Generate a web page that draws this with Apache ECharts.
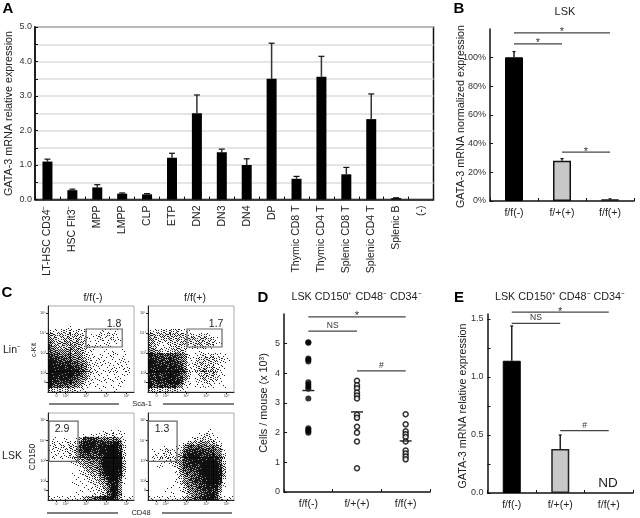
<!DOCTYPE html>
<html>
<head>
<meta charset="utf-8">
<title>GATA-3 expression</title>
<script src="https://cdn.jsdelivr.net/npm/echarts@6/dist/echarts.min.js"></script>
<style>
html,body{margin:0;padding:0;background:#fff;}
#main{width:640px;height:518px;}
</style>
</head>
<body>
<div id="main"></div>
<script>
// panel A
var subsets = ['LT-HSC CD34⁻','HSC Flt3⁻','MPP','LMPP','CLP','ETP','DN2','DN3','DN4','DP','Thymic CD8 T','Thymic CD4 T','Splenic CD8 T','Splenic CD4 T','Splenic B','(-)'];
var subsetMean = [1.1,0.27,0.35,0.17,0.15,1.21,2.5,1.37,1.0,3.5,0.6,3.56,0.73,2.33,0.04,0];
var subsetTop = [1.17,0.3,0.43,0.19,0.17,1.34,3.03,1.46,1.18,4.53,0.67,4.15,0.93,3.06,0.05,0];

// panels B, D, E
var genotypes = ['f/f(-)','f/+(+)','f/f(+)'];
var lskMean = [100,28,1.2];
var lskTop = [104,29.5,1.5];
var lskBrackets = [[0,2,117,'*'],[0,1,109.3,'*'],[1,2,34,'*']];
var cellsFF = [5.05,5.03,4.5,4.46,4.4,3.7,3.62,3.55,3.48,3.15,2.15,2.1,2.05,2.0];
var cellsFP = [3.75,3.6,3.5,3.35,3.25,3.15,2.6,2.5,2.2,2.0,1.7,0.8];
var cellsFPlus = [2.62,2.28,2.05,1.95,1.85,1.7,1.4,1.3,1.2,1.1];
var cellsMean = [3.42,2.7,1.72];
var cellsBrackets = [[0,2,5.9,'*'],[0,1,5.42,'NS'],[1,2,4.08,'#']];
var sortedMean = [1.14,0.38,null];
var sortedTop = [1.44,0.5,null];
var sortedBrackets = [[0,2,1.56,'*'],[0,1,1.463,'NS'],[1,2,0.537,'#']];

// panel C, flow plots: density read per cell, 22 x 22, top row first, 0 empty to 9 solid
var facsLinFF = [
'0000000000000000000000','0000000000000000000000','0000000000000000000000','0000000000000000000000','0000000000000000000000',
'0000010000000000000000','2112221212000111010000','4323232321011212110000','4322332322101211211000','5333433432101011010000',
'6433334332211101000000','6544453432110010100100','7665564442110101110100','8776665543211110101100','9877776654211111011110',
'9888787765211101111110','9888887865311011110110','9888888764211101010110','9878877654211011011000','9777776542110110101100',
'8666655431101010101000','2222222111000100010000'];
var facsLinFP = [
'0000000000000000000000','0000000000000000000000','0000000000000000000000','0000000000000000000000','0000000000000000000000',
'0000000000000000000000','2122222311100000000000','4323333332121221000000','4322232323332332210000','3321122233223323211000',
'4311112322122221100000','5432122332000100000000','8767666654101121211100','8777677654112233222110','9877777764112322221100',
'8888878774112232311100','8788787875212342321000','8787888865201232321100','8787888774201232221000','8687788872101122111000',
'8667767641101111100100','2222222211000000000000'];
var facsLskFF = [
'0000000000000000000000','0000000000000000000000','0000000000000000000000','0000000000000000000000','0000000000000010101000',
'0000000001011121211100','0100100137776555453100','0211121268887777786100','1212122378887889997200','1111212478877889997200',
'0111121366766789998200','0101012345666799998200','0000001234555799999300','0000000123445699999300','0000000012344689998300',
'0000001012233689998200','0000000101222468996100','0000001010122347885100','0000000101012236884000','0000000010111236884000',
'0000000100011236885000','1111111113456788973111'];
var facsLskFP = [
'0000000000000000000000','0000000000000000000000','0000000000000000000000','0000000000000000000000','0000000000000001000000',
'0000000000000122100000','0000000000012222110000','0000000001333443321000','0000100114666655543000','0101221126777776654100',
'0111211237888777765200','0112121237888878876200','0101111347788899986200','0011001247777899997300','0000000146677899998300',
'0000000135666899998300','0000000124567789998200','0000000124567789997100','0000001013556778885100','0000100012456678774000',
'0000001001345678872000','1111111113456788973111'];
// gates in decades: x0, x1, y0, y1, label, label x, label y
var gateLinFF = [3.0,4.78,3.31,4.21,'1.8',4.38,4.46];
var gateLinFP = [3.05,4.77,3.31,4.21,'1.7',4.48,4.46];
var gateLskFF = [1.18,2.61,2.97,4.96,'2.9',1.82,4.56];
var gateLskFP = [1.13,2.56,2.97,4.96,'1.3',1.82,4.56];
var decadeTicks = [1.55,2,3,4,5];
var decadeLabels = ['0','10²','10³','10⁴','10⁵'];
// screen order used to shade a density cell as specks instead of a flat grey
var speckOrder = [0,8,2,10,12,4,14,6,3,11,1,9,15,7,13,5];

var FONT = '"Liberation Sans", Arial, sans-serif';
var INK = '#222';

function errorBars(gridIdx, means, tops, capHalf, stemColor){
    var rows = [];
    means.forEach(function(m, i){
        if(m !== null && tops[i] > m){ rows.push([i, m, tops[i]]); }
    });
    return {
        type:'custom', xAxisIndex:gridIdx, yAxisIndex:gridIdx, z:1, silent:true,
        data:rows,
        renderItem:function(params, api){
            var low = api.coord([api.value(0), api.value(1)]);
            var high = api.coord([api.value(0), api.value(2)]);
            return {type:'group', children:[
                {type:'line', shape:{x1:low[0],y1:low[1],x2:high[0],y2:high[1]}, style:{stroke:stemColor,lineWidth:1.5}},
                {type:'line', shape:{x1:high[0]-capHalf,y1:high[1],x2:high[0]+capHalf,y2:high[1]}, style:{stroke:'#111',lineWidth:1.2}}
            ]};
        }
    };
}

function brackets(gridIdx, rows){
    return {
        type:'custom', xAxisIndex:gridIdx, yAxisIndex:gridIdx, z:3, silent:true,
        encode:{x:[0,1], y:2},
        data:rows,
        renderItem:function(params, api){
            var a = api.coord([api.value(0), api.value(2)]);
            var b = api.coord([api.value(1), api.value(2)]);
            var mark = rows[params.dataIndex][3];
            return {type:'group', children:[
                {type:'line', shape:{x1:a[0],y1:a[1],x2:b[0],y2:b[1]}, style:{stroke:'#444',lineWidth:1.2}},
                {type:'text', x:(a[0]+b[0])/2, y:a[1]+(mark=='*'?5:-1), style:{text:mark,fill:'#333',align:'center',verticalAlign:'bottom',font:(mark=='*'?'11px ':'8.5px ')+FONT}}
            ]};
        }
    };
}

function facsSeries(gridIdx, rows){
    var cells = [];
    rows.forEach(function(row, r){
        for(var c=0;c<row.length;c++){
            if(row[c] != '0'){ cells.push([c, r, +row[c]]); }
        }
    });
    var x0 = 1.13, x1 = 5.36, y0 = 1.06, y1 = 5.36, n = 22;
    return {
        type:'custom', xAxisIndex:gridIdx, yAxisIndex:gridIdx, z:1, silent:true,
        encode:{x:0, y:1},
        data:cells.map(function(d){
            return [x0+d[0]*(x1-x0)/n, y1-d[1]*(y1-y0)/n, d[2], d[0], d[1]];
        }),
        renderItem:function(params, api){
            var tl = api.coord([api.value(0), api.value(1)]);
            var br = api.coord([api.value(0)+(x1-x0)/n, api.value(1)-(y1-y0)/n]);
            var w = (br[0]-tl[0])/4, h = (br[1]-tl[1])/4;
            var density = api.value(2)/9;
            var count = density*16;
            var shift = api.value(3)*5+api.value(4)*3;
            // soft shade under the specks, the reference is a blurred scan
            var children = [{type:'rect', shape:{x:tl[0],y:tl[1],width:br[0]-tl[0],height:br[1]-tl[1]}, style:{fill:'rgba(0,0,0,'+(density*density*0.65)+')'}}];
            for(var i=0;i<16;i++){
                if(speckOrder[(i+shift)%16] < count){
                    children.push({type:'rect', shape:{x:Math.round(tl[0]+(i%4)*w),y:Math.round(tl[1]+Math.floor(i/4)*h),width:1,height:1}, style:{fill:'#000',opacity:0.85}});
                }
            }
            return {type:'group', children:children};
        }
    };
}

function gateSeries(gridIdx, gate){
    return {
        type:'custom', xAxisIndex:gridIdx, yAxisIndex:gridIdx, z:3, silent:true,
        data:[gate.slice(0,4).concat(gate.slice(5))],
        renderItem:function(params, api){
            var a = api.coord([api.value(0), api.value(3)]);
            var b = api.coord([api.value(1), api.value(2)]);
            var t = api.coord([api.value(4), api.value(5)]);
            return {type:'group', children:[
                {type:'rect', shape:{x:a[0],y:a[1],width:b[0]-a[0],height:b[1]-a[1]}, style:{fill:'none',stroke:'#666',lineWidth:1.2}},
                {type:'text', x:t[0], y:t[1], style:{text:gate[4],fill:INK,align:'center',verticalAlign:'middle',font:'10.5px '+FONT}}
            ]};
        }
    };
}

function boxAxisY(gridIdx, max, ticks, labels, fmt){
    return {
        type:'value', gridIndex:gridIdx, min:0, max:max,
        axisLine:{show:true,lineStyle:{color:'#111',width:1.5}},
        axisTick:{show:true,inside:true,length:3,customValues:ticks,lineStyle:{color:'#111'}},
        axisLabel:{customValues:labels,formatter:fmt,fontFamily:FONT,fontSize:9,color:'#333',margin:4},
        splitLine:{show:false}
    };
}

function genotypeAxisX(gridIdx){
    return {
        type:'category', gridIndex:gridIdx, data:genotypes,
        axisLine:{lineStyle:{color:'#111',width:1.5}},
        axisTick:{show:true,inside:true,length:3,lineStyle:{color:'#111'}},
        axisLabel:{fontFamily:FONT,fontSize:10.5,color:INK,margin:7}
    };
}

function facsAxisX(gridIdx){
    return {
        type:'value', gridIndex:gridIdx, min:1.13, max:5.36,
        axisLine:{onZero:false,lineStyle:{color:'#222',width:1}},
        axisTick:{customValues:decadeTicks,length:2,lineStyle:{color:'#222'}},
        axisLabel:{customValues:decadeTicks,formatter:decadeText,fontFamily:FONT,fontSize:4,color:'#444',margin:2},
        splitLine:{show:false}
    };
}
function facsAxisY(gridIdx){
    return {
        type:'value', gridIndex:gridIdx, min:1.06, max:5.36,
        axisLine:{onZero:false,lineStyle:{color:'#222',width:1}},
        axisTick:{customValues:decadeTicks,length:2,lineStyle:{color:'#222'}},
        axisLabel:{customValues:decadeTicks,formatter:decadeText,fontFamily:FONT,fontSize:4,color:'#444',margin:2},
        splitLine:{show:false}
    };
}
function decadeText(v){
    return decadeLabels[decadeTicks.indexOf(v)];
}

function label(text, x, y, size, opts){
    opts = opts || {};
    return {
        type:'text', x:x, y:y, rotation:opts.rotate||0, silent:true,
        style:{text:text,fill:opts.fill||INK,align:opts.align||'center',verticalAlign:'middle',
            font:(opts.bold?'bold ':'')+size+'px '+FONT}
    };
}
function rule(x1, x2, y){
    return {type:'line', silent:true, shape:{x1:x1,y1:y,x2:x2,y2:y}, style:{stroke:'#555',lineWidth:1.5}};
}

var chart = echarts.init(document.getElementById('main'));
chart.setOption({
    animation:false,
    backgroundColor:'#fff',
    textStyle:{fontFamily:FONT},
    grid:[
        {left:35,top:27,width:398.5,height:172.5,show:true,borderColor:'#111',borderWidth:1.5,containLabel:false},
        {left:490,top:29,width:144,height:172},
        {left:284,top:314,width:146,height:178},
        {left:487.5,top:314,width:145.5,height:179},
        {left:48,top:306,width:86,height:86,show:true,borderColor:'#aaa',borderWidth:1},
        {left:148,top:306,width:86,height:86,show:true,borderColor:'#aaa',borderWidth:1},
        {left:48,top:413,width:86,height:87,show:true,borderColor:'#aaa',borderWidth:1},
        {left:148,top:413,width:86,height:87,show:true,borderColor:'#aaa',borderWidth:1}
    ],
    xAxis:[
        {
            type:'category', gridIndex:0, data:subsets,
            axisLine:{lineStyle:{color:'#111',width:1.5}},
            axisTick:{show:true,inside:true,length:3,lineStyle:{color:'#111'}},
            axisLabel:{rotate:90,interval:0,fontFamily:FONT,fontSize:10.5,color:INK,margin:6}
        },
        genotypeAxisX(1), genotypeAxisX(2), genotypeAxisX(3),
        facsAxisX(4), facsAxisX(5), facsAxisX(6), facsAxisX(7)
    ],
    yAxis:[
        {
            type:'value', gridIndex:0, min:0, max:5, interval:0.5,
            axisLine:{show:true,lineStyle:{color:'#111',width:1.5}},
            axisTick:{show:true,inside:true,length:3,lineStyle:{color:'#111'}},
            axisLabel:{fontFamily:FONT,fontSize:9,color:'#333',margin:3,formatter:function(v){
                return v%1===0 ? v.toFixed(1) : '';
            }},
            splitLine:{show:true,lineStyle:{color:'#ddd',width:1.5}}
        },
        boxAxisY(1,119.7,[0,20,40,60,80,100],[0,20,40,60,80,100],'{value}%'),
        boxAxisY(2,6,[0,1,2,3,4,5],[0,1,2,3,4,5],'{value}'),
        boxAxisY(3,1.543,[0,0.25,0.5,0.75,1,1.25,1.5],[0,0.5,1,1.5],function(v){ return v.toFixed(1); }),
        facsAxisY(4), facsAxisY(5), facsAxisY(6), facsAxisY(7)
    ],
    series:[
        {type:'bar', xAxisIndex:0, yAxisIndex:0, data:subsetMean, barWidth:10, itemStyle:{color:'#000'}, silent:true, z:2},
        errorBars(0, subsetMean, subsetTop, 3, '#333'),

        {type:'bar', xAxisIndex:1, yAxisIndex:1, barWidth:18, silent:true, z:2,
            data:[
                {value:lskMean[0],itemStyle:{color:'#000',borderColor:'#000',borderWidth:1}},
                {value:lskMean[1],itemStyle:{color:'#c8c8c8',borderColor:'#111',borderWidth:1.5}},
                {value:lskMean[2],itemStyle:{color:'#333',borderColor:'#222',borderWidth:1}}
            ]},
        errorBars(1, lskMean, lskTop, 1.5, '#222'),
        brackets(1, lskBrackets),

        {type:'scatter', xAxisIndex:2, yAxisIndex:2, symbol:'circle', symbolSize:6, silent:true, z:2,
            itemStyle:{color:'#000'},
            data:cellsFF.map(function(v){ return [0,v]; })},
        {type:'scatter', xAxisIndex:2, yAxisIndex:2, symbol:'circle', symbolSize:5, silent:true, z:2,
            itemStyle:{color:'#fff',borderColor:'#000',borderWidth:1.5},
            data:cellsFP.map(function(v){ return [1,v]; })},
        {type:'scatter', xAxisIndex:2, yAxisIndex:2, symbol:'circle', symbolSize:5, silent:true, z:2,
            itemStyle:{color:'#fff',borderColor:'#000',borderWidth:1.5},
            data:cellsFPlus.map(function(v){ return [2,v]; })},
        {type:'custom', xAxisIndex:2, yAxisIndex:2, z:3, silent:true,
            data:cellsMean.map(function(v,i){ return [i,v]; }),
            renderItem:function(params, api){
                var c = api.coord([api.value(0), api.value(1)]);
                return {type:'line', shape:{x1:c[0]-6,y1:c[1],x2:c[0]+6,y2:c[1]}, style:{stroke:'#222',lineWidth:1.4}};
            }},
        brackets(2, cellsBrackets),

        {type:'bar', xAxisIndex:3, yAxisIndex:3, barWidth:18, silent:true, z:2,
            data:[
                {value:sortedMean[0],itemStyle:{color:'#000',borderColor:'#000',borderWidth:1}},
                {value:sortedMean[1],itemStyle:{color:'#c8c8c8',borderColor:'#222',borderWidth:1.5}},
                {value:sortedMean[2]}
            ]},
        errorBars(3, sortedMean, sortedTop, 1.5, '#222'),
        brackets(3, sortedBrackets),

        facsSeries(4, facsLinFF), gateSeries(4, gateLinFF),
        facsSeries(5, facsLinFP), gateSeries(5, gateLinFP),
        facsSeries(6, facsLskFF), gateSeries(6, gateLskFF),
        facsSeries(7, facsLskFP), gateSeries(7, gateLskFP)
    ],
    graphic:{elements:[
        label('A',8,9,15,{bold:true,fill:'#000'}),
        label('B',459,9,15,{bold:true,fill:'#000'}),
        label('C',7,293,15,{bold:true,fill:'#000'}),
        label('D',263,298,15,{bold:true,fill:'#000'}),
        label('E',459,298,15,{bold:true,fill:'#000'}),
        label('LSK',565,12,11),
        label('LSK CD150⁺ CD48⁻ CD34⁻',356.5,297,10.8),
        label('LSK CD150⁺ CD48⁻ CD34⁻',560,297,10.8),
        label('GATA-3 mRNA relative expression',9,113.5,10.8,{rotate:Math.PI/2}),
        label('GATA-3 mRNA normalized expression',461,116.5,10.8,{rotate:Math.PI/2}),
        label('Cells / mouse (x 10³)',264,403,10.8,{rotate:Math.PI/2}),
        label('GATA-3 mRNA relative expression',463,406,10.8,{rotate:Math.PI/2}),
        label('ND',608,483,13.5),
        label('f/f(-)',93,298,10.5),
        label('f/f(+)',195,298,10.5),
        label('Lin⁻',12,350,10.5),
        label('LSK',12,456,10.5),
        label('c-Kit',34,350,7,{rotate:Math.PI/2}),
        label('CD150',33,457,8.5,{rotate:Math.PI/2}),
        label('Sca-1',142,404,7.5),
        label('CD48',141,513,7.5),
        rule(49,119,404), rule(163,234,404),
        rule(47,118,513), rule(162,232,513)
    ]}
});
</script>
</body>
</html>
